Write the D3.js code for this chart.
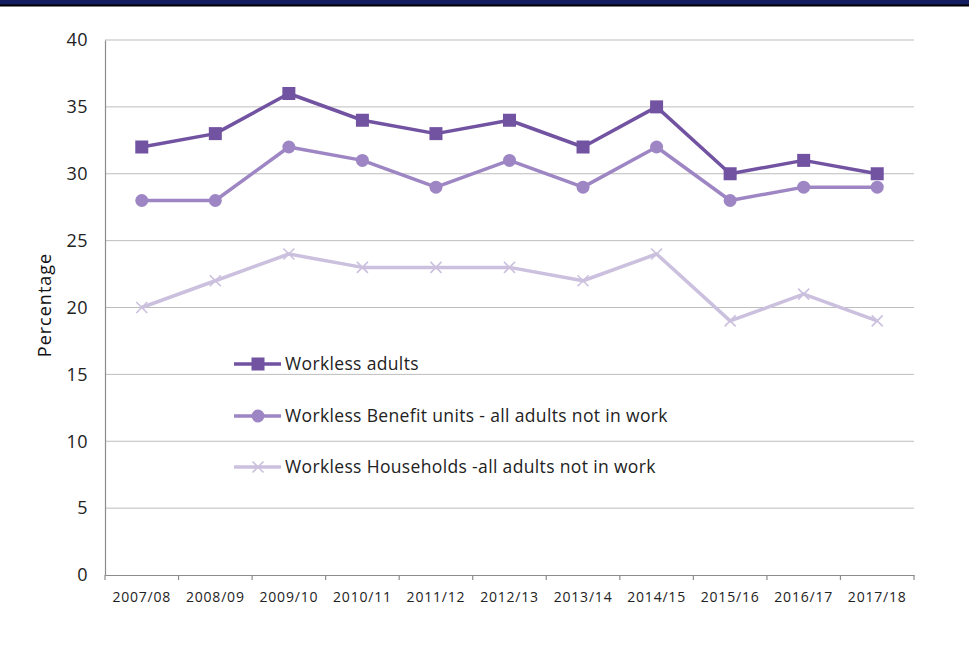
<!DOCTYPE html>
<html>
<head>
<meta charset="utf-8">
<script src="https://cdn.jsdelivr.net/npm/d3@7/dist/d3.min.js"></script>
<style>
  html, body { margin: 0; padding: 0; background: #fff; }
  svg { display: block; font-family: "Open Sans", Lato, "Liberation Sans", sans-serif; }
</style>
</head>
<body>
<svg id="chart" width="969" height="648"></svg>
<script>
// Survey years
const years = ["2007/08", "2008/09", "2009/10", "2010/11", "2011/12", "2012/13",
               "2013/14", "2014/15", "2015/16", "2016/17", "2017/18"];

// Percentages for each measure of worklessness
const worklessAdults       = [32, 33, 36, 34, 33, 34, 32, 35, 30, 31, 30];
const worklessBenefitUnits = [28, 28, 32, 31, 29, 31, 29, 32, 28, 29, 29];
const worklessHouseholds   = [20, 22, 24, 23, 23, 23, 22, 24, 19, 21, 19];

const yTicks = [0, 5, 10, 15, 20, 25, 30, 35, 40];

const seriesNames = [
  "Workless adults",
  "Workless Benefit units - all adults not in work",
  "Workless Households -all adults not in work"
];

const series = [
  { name: seriesNames[0], values: worklessAdults, color: "#7153a2", marker: "square" },
  { name: seriesNames[1], values: worklessBenefitUnits, color: "#9d86c3", marker: "circle" },
  { name: seriesNames[2], values: worklessHouseholds, color: "#cbc0de", marker: "cross" }
];

const svg = d3.select("#chart");
const font = "'Open Sans', Lato, sans-serif";

// Header band across the top
svg.append("rect").attr("x", 0).attr("y", 0).attr("width", 969).attr("height", 5).attr("fill", "#141e5f");
svg.append("rect").attr("x", 0).attr("y", 4.5).attr("width", 969).attr("height", 2).attr("fill", "#000");

const plot = { left: 105, right: 914, top: 40, bottom: 575 };

const x = d3.scaleBand().domain(years).range([plot.left, plot.right]).padding(0);
const y = d3.scaleLinear().domain([0, 40]).range([plot.bottom, plot.top]);
const cx = d => x(d) + x.bandwidth() / 2;

// Horizontal gridlines
svg.append("g")
  .selectAll("line")
  .data(yTicks.filter(t => t > 0))
  .join("line")
  .attr("x1", plot.left).attr("x2", plot.right)
  .attr("y1", d => y(d)).attr("y2", d => y(d))
  .attr("stroke", "#bdbdbd").attr("stroke-width", 1);

// Y axis
const yAxis = svg.append("g")
  .attr("transform", `translate(${plot.left},0)`)
  .call(d3.axisLeft(y).tickValues(yTicks).tickSize(0).tickPadding(17));
yAxis.select(".domain").attr("stroke", "#8c8c8c").attr("stroke-width", 1.2);
yAxis.selectAll("text").attr("font-size", 18).attr("fill", "#222")
  .attr("font-family", font).attr("letter-spacing", "0.5px");

// X axis with category boundary ticks
const xAxis = svg.append("g")
  .attr("transform", `translate(0,${plot.bottom})`)
  .call(d3.axisBottom(x).tickSize(0).tickPadding(17));
xAxis.select(".domain").attr("stroke", "#8c8c8c").attr("stroke-width", 1.2);
xAxis.selectAll("text").attr("font-size", 14).attr("fill", "#222")
  .attr("font-family", font).attr("letter-spacing", "0.8px");
xAxis.append("g")
  .selectAll("line")
  .data(d3.range(years.length + 1))
  .join("line")
  .attr("x1", i => plot.left + i * x.bandwidth())
  .attr("x2", i => plot.left + i * x.bandwidth())
  .attr("y1", 0).attr("y2", 5)
  .attr("stroke", "#8c8c8c").attr("stroke-width", 1.2);

// Y axis title
svg.append("text")
  .attr("transform", "translate(51,305) rotate(-90)")
  .attr("text-anchor", "middle")
  .attr("font-size", 18)
  .attr("font-family", font)
  .attr("letter-spacing", "1px")
  .attr("fill", "#111")
  .text("Percentage");

function drawMarker(g, type, color, px, py) {
  if (type === "square") {
    g.append("rect").attr("x", px - 6.5).attr("y", py - 6.5)
      .attr("width", 13).attr("height", 13).attr("fill", color);
  } else if (type === "circle") {
    g.append("circle").attr("cx", px).attr("cy", py).attr("r", 6.5).attr("fill", color);
  } else {
    const s = 5.5;
    g.append("path")
      .attr("d", `M${px - s},${py - s}L${px + s},${py + s}M${px - s},${py + s}L${px + s},${py - s}`)
      .attr("stroke", color).attr("stroke-width", 1.6).attr("fill", "none");
  }
}

const line = d3.line().x((d, i) => cx(years[i])).y(d => y(d));

// Draw lightest series first so darker lines sit on top
series.slice().reverse().forEach(s => {
  const g = svg.append("g");
  g.append("path")
    .attr("d", line(s.values))
    .attr("fill", "none")
    .attr("stroke", s.color)
    .attr("stroke-width", 3.5)
    .attr("stroke-linejoin", "round");
  s.values.forEach((v, i) => drawMarker(g, s.marker, s.color, cx(years[i]), y(v)));
});

// Legend
const legendRows = [364, 416, 467];
series.forEach((s, i) => {
  const g = svg.append("g");
  const ly = legendRows[i];
  g.append("line").attr("x1", 234).attr("x2", 281).attr("y1", ly).attr("y2", ly)
    .attr("stroke", s.color).attr("stroke-width", 3.5);
  drawMarker(g, s.marker, s.color, 258, ly);
  g.append("text")
    .attr("x", 285).attr("y", ly).attr("dy", "0.36em")
    .attr("font-size", 17.5).attr("font-family", font).attr("letter-spacing", "0.35px")
    .attr("fill", "#222")
    .text(s.name);
});
</script>
</body>
</html>
